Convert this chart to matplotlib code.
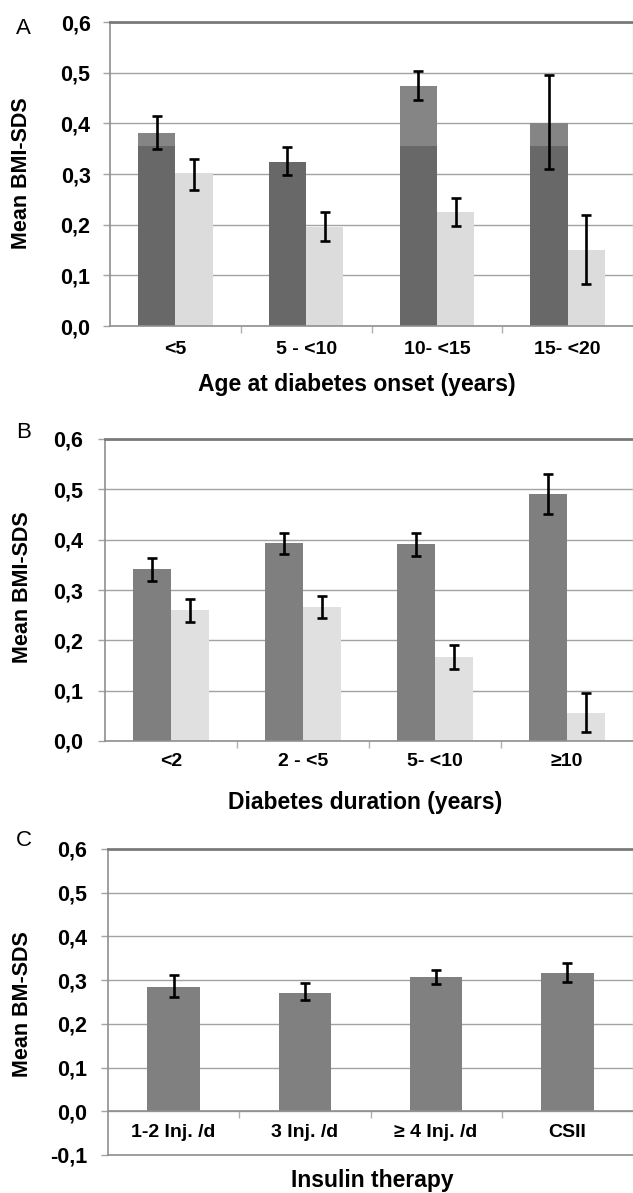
import numpy as np
import matplotlib
matplotlib.use("Agg")
import matplotlib.pyplot as plt

plt.rcParams['font.family'] = ['Liberation Sans', 'DejaVu Sans']

# ---------------- data ----------------
a_categories = ["<5", "5 - <10", "10- <15", "15- <20"]
a_dark = [0.381, 0.323, 0.473, 0.400]
a_dark_lo = [0.349, 0.298, 0.446, 0.310]
a_dark_hi = [0.414, 0.353, 0.503, 0.495]
a_light = [0.302, 0.195, 0.225, 0.150]
a_light_lo = [0.268, 0.168, 0.197, 0.083]
a_light_hi = [0.329, 0.225, 0.252, 0.219]
a_dark_split = 0.355  # level where the dark bars change shade in panel A

b_categories = ["<2", "2 - <5", "5- <10", "\u226510"]
b_dark = [0.342, 0.394, 0.392, 0.491]
b_dark_lo = [0.318, 0.372, 0.368, 0.451]
b_dark_hi = [0.364, 0.414, 0.414, 0.530]
b_light = [0.260, 0.266, 0.167, 0.056]
b_light_lo = [0.237, 0.245, 0.143, 0.018]
b_light_hi = [0.282, 0.288, 0.191, 0.095]

c_categories = ["1-2 Inj. /d", "3 Inj. /d", "\u2265 4 Inj. /d", "CSII"]
c_vals = [0.284, 0.270, 0.307, 0.316]
c_lo = [0.261, 0.254, 0.291, 0.295]
c_hi = [0.311, 0.293, 0.323, 0.339]

ab_yticks = [0.0, 0.1, 0.2, 0.3, 0.4, 0.5, 0.6]
c_yticks = [-0.1, 0.0, 0.1, 0.2, 0.3, 0.4, 0.5, 0.6]

# ---------------- layout helpers ----------------
W, H = 633, 1193
fig = plt.figure(figsize=(W / 100, H / 100), dpi=100)

def px_axes(left, right, top, bottom):
    return fig.add_axes([left / W, 1 - bottom / H, (right - left) / W, (bottom - top) / H])

def ftext(x, y, s, **kw):
    fig.text(x / W, 1 - y / H, s, **kw)

GRID = "#a3a3a3"
YTICKFS = 15.5
XTICKFS = 14
TITLEFS = 16.5
ERR = dict(ecolor="black", elinewidth=1.9, capsize=3.6, capthick=1.9)

def style_axes(ax, yticks, ylim, cats, ytick_pad, xtick_pad):
    ax.set_xlim(0, len(cats))
    ax.set_ylim(*ylim)
    ax.set_yticks(yticks)
    ax.set_yticklabels([f"{v:.1f}".replace(".", ",") for v in yticks],
                       fontsize=YTICKFS, fontweight="bold")
    ax.yaxis.grid(True, color=GRID, linewidth=1.0)
    ax.set_axisbelow(True)
    ax.tick_params(axis="y", length=5, color=GRID, pad=ytick_pad, width=1.0)
    ax.set_xticks(np.arange(1, len(cats)))
    ax.set_xticklabels([])
    ax.set_xticks(np.arange(len(cats)) + 0.5, minor=True)
    ax.set_xticklabels(cats, minor=True, fontsize=XTICKFS, fontweight="bold")
    ax.tick_params(axis="x", which="major", length=5, color="#b0b0b0", width=1.0)
    ax.tick_params(axis="x", which="minor", length=0, pad=xtick_pad)
    ax.spines["top"].set_color("#7a7a7a")
    ax.spines["top"].set_linewidth(2.0)
    ax.spines["left"].set_color("#8f8f8f")
    ax.spines["left"].set_linewidth(1.2)
    ax.spines["right"].set_color("#d8d8d8")
    ax.spines["right"].set_linewidth(1.0)
    ax.spines["bottom"].set_color("#8f8f8f")
    ax.spines["bottom"].set_linewidth(1.2)

def yerr(vals, lo, hi):
    v = np.array(vals)
    return np.vstack([v - np.array(lo), np.array(hi) - v])

# ---------------- Panel A ----------------
axA = px_axes(110, 633, 22, 326)
x = np.arange(len(a_categories)) + 0.5
bw = 0.285
ad = np.array(a_dark)
a_low = np.minimum(ad, a_dark_split)
axA.bar(x - bw / 2, a_low, bw, color="#686868", zorder=2)
axA.bar(x - bw / 2, ad - a_low, bw, bottom=a_low, color="#858585", zorder=2)
axA.bar(x + bw / 2, a_light, bw, color="#dcdcdc", zorder=2)
axA.errorbar(x - bw / 2, a_dark, yerr=yerr(a_dark, a_dark_lo, a_dark_hi), fmt="none", zorder=3, **ERR)
axA.errorbar(x + bw / 2, a_light, yerr=yerr(a_light, a_light_lo, a_light_hi), fmt="none", zorder=3, **ERR)
style_axes(axA, ab_yticks, (0, 0.6), a_categories, ytick_pad=9, xtick_pad=11)

# ---------------- Panel B ----------------
axB = px_axes(105, 633, 439, 741)
x = np.arange(len(b_categories)) + 0.5
bw = 0.287
axB.bar(x - bw / 2, b_dark, bw, color="#7f7f7f", zorder=2)
axB.bar(x + bw / 2, b_light, bw, color="#e0e0e0", zorder=2)
axB.errorbar(x - bw / 2, b_dark, yerr=yerr(b_dark, b_dark_lo, b_dark_hi), fmt="none", zorder=3, **ERR)
axB.errorbar(x + bw / 2, b_light, yerr=yerr(b_light, b_light_lo, b_light_hi), fmt="none", zorder=3, **ERR)
style_axes(axB, ab_yticks, (0, 0.6), b_categories, ytick_pad=11, xtick_pad=9)

# ---------------- Panel C ----------------
axC = px_axes(108, 633, 849, 1155)
axC.spines["bottom"].set_position(("data", 0.0))
x = np.arange(len(c_categories)) + 0.5
bw = 0.40
axC.bar(x, c_vals, bw, color="#808080", zorder=2)
axC.errorbar(x, c_vals, yerr=yerr(c_vals, c_lo, c_hi), fmt="none", zorder=3, **ERR)
style_axes(axC, c_yticks, (-0.1, 0.6), c_categories, ytick_pad=10, xtick_pad=9)
axC.plot([0, 1], [0, 0], transform=axC.transAxes, color="#8f8f8f", lw=1.2, clip_on=False, zorder=4)

# ---------------- texts ----------------
lab = dict(fontsize=15.5, fontweight="bold", rotation=90, ha="center", va="center")
ftext(22, 173, "Mean BMI-SDS", **lab)
ftext(23, 587, "Mean BMI-SDS", **lab)
ftext(23, 1004, "Mean BM-SDS", **lab)

tit = dict(fontsize=TITLEFS, fontweight="bold", ha="center", va="center")
ftext(357, 385, "Age at diabetes onset (years)", **tit)
ftext(365, 802, "Diabetes duration (years)", **tit)
ftext(372, 1181, "Insulin therapy", **tit)

pan = dict(fontsize=16, ha="center", va="center")
ftext(23, 28, "A", **pan)
ftext(24, 432, "B", **pan)
ftext(24, 840, "C", **pan)

fig.savefig("out.png", dpi=100)
